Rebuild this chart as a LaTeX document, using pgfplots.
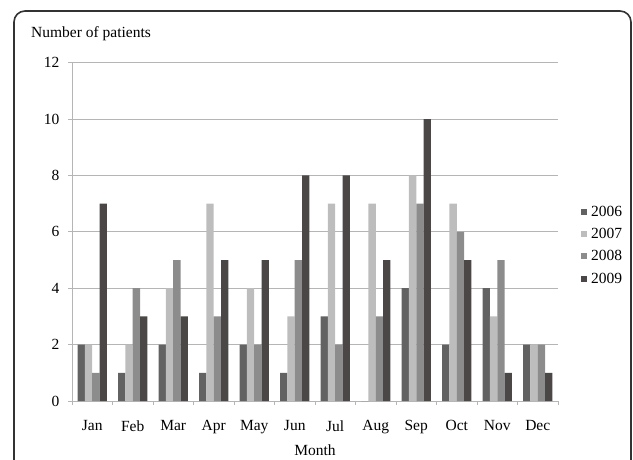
\documentclass[border=0pt]{standalone}
\usepackage{fontspec}
\setmainfont{Liberation Serif}
\usepackage{pgfplots}
\pgfplotsset{compat=1.18}
\definecolor{cA}{HTML}{626262}
\definecolor{cB}{HTML}{BDBDBD}
\definecolor{cC}{HTML}{8C8C8C}
\definecolor{cD}{HTML}{4B4747}
\definecolor{axgray}{HTML}{B5B5B5}
\begin{document}
\begin{tikzpicture}[font=\fontsize{15.5}{18}\selectfont, x=1pt, y=1pt]
\path[use as bounding box] (0,0) rectangle (633,459);
\draw[line width=1.6pt, color=black!80, rounded corners=11pt] (14,-30) -- (14,448) -- (631,448) -- (631,-30);
\node[anchor=base west, inner sep=0pt] at (31,421) {Number of patients};
\begin{axis}[
  at={(72pt,58pt)}, anchor=south west,
  width=486pt, height=338.4pt, scale only axis,
  xmin=-0.5, xmax=11.5, ymin=0, ymax=12,
  ytick={0,2,...,12},
  xtick={-0.5,0.5,...,11.5}, xticklabels={},
  extra x ticks={0,1,...,11},
  extra x tick labels={Jan,Feb,Mar,Apr,May,Jun,Jul,Aug,Sep,Oct,Nov,Dec},
  extra x tick style={major tick length=0pt, grid=none},
  tick align=outside, major tick length=4pt,
  tick style={axgray, line width=0.8pt},
  axis x line*=bottom, axis y line*=left,
  axis line style={axgray, line width=0.8pt, -},
  ymajorgrids, grid style={axgray, line width=0.8pt},
  /pgf/number format/assume math mode=true,
  yticklabel style={xshift=-5pt},
  xticklabel style={yshift=-16pt},
  xlabel={Month},
  xlabel style={yshift=0pt},
  ybar=0pt, bar width=7.3pt,
  legend style={at={(1,0.46)}, anchor=west, xshift=20pt, draw=none, fill=none, row sep=10.5pt, cells={anchor=west},
    nodes={inner sep=0pt}, column sep=0pt},
  legend image code/.code={\path[#1, draw=none] (0pt,-3pt) rectangle (6pt,3pt);},
  legend cell align=left,
]
\addplot[fill=cA, draw=none] coordinates {(0,2)(1,1)(2,2)(3,1)(4,2)(5,1)(6,3)(7,0)(8,4)(9,2)(10,4)(11,2)};
\addplot[fill=cB, draw=none] coordinates {(0,2)(1,2)(2,4)(3,7)(4,4)(5,3)(6,7)(7,7)(8,8)(9,7)(10,3)(11,2)};
\addplot[fill=cC, draw=none] coordinates {(0,1)(1,4)(2,5)(3,3)(4,2)(5,5)(6,2)(7,3)(8,7)(9,6)(10,5)(11,2)};
\addplot[fill=cD, draw=none] coordinates {(0,7)(1,3)(2,3)(3,5)(4,5)(5,8)(6,8)(7,5)(8,10)(9,5)(10,1)(11,1)};
\legend{\hspace{4pt}2006,\hspace{4pt}2007,\hspace{4pt}2008,\hspace{4pt}2009}
\end{axis}
\end{tikzpicture}
\end{document}
